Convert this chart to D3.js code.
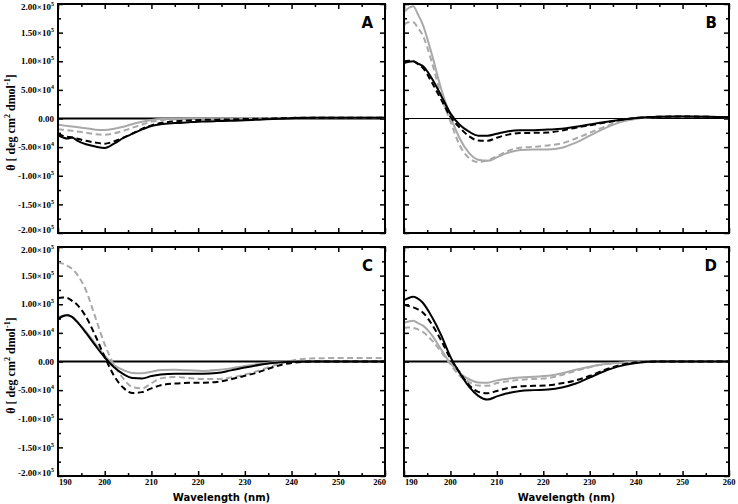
<!DOCTYPE html>
<html>
<head>
<meta charset="utf-8">
<script src="https://cdn.jsdelivr.net/npm/d3@7"></script>
<style>
body { margin: 0; background: #fff; }
</style>
</head>
<body>
<svg id="chart" width="738" height="504"></svg>
<script>
// wavelength grid (nm) shared by every series
var wavelengths = [190,191,192,193,194,196,198,200,202,204,206,208,210,212,215,218,221,224,227,230,233,236,240,245,250,255,260];

// ellipticity, in units of 1e3 deg cm2 dmol-1
var aGraySolid   = [-11,-12,-13,-14,-15,-17,-19.5,-20,-18,-14.5,-9.5,-5.5,-2.5,-1,-0.5,-0.2,0,0,0,0,0.3,0.5,1,1.5,1.5,1.2,1.2];
var aGrayDashed  = [-18.6,-19.5,-20.5,-21.5,-22.5,-25,-27.5,-28.5,-26,-21.5,-16,-10.5,-5.5,-3,-1.5,-1,-0.7,-0.5,-0.3,0,0.3,0.5,1,1.5,1.5,1.2,1.2];
var aBlackDashed = [-27,-30,-32,-33,-35,-39,-42,-44,-40,-33.5,-26,-18,-12,-8,-5,-3.5,-2.5,-2,-1.5,-1,-0.5,0,1,1.5,1.5,1.2,1.2];
var aBlackSolid  = [-30,-33,-35,-33,-38,-45,-49,-51.5,-44,-34,-26.5,-19,-13,-10.2,-8,-6.5,-5.2,-4.5,-4,-3,-2,-0.8,0.5,1.5,1.5,1.2,1.2];

var bGraySolid   = [186,193,196,182,165,112,52,4,-35,-60,-72,-74,-68,-61,-55,-54,-54,-51,-42,-30,-18,-8,-0.5,3,4,3.5,2];
var bGrayDashed  = [164,168,168,158,146,98,40,-5,-47,-69,-76,-73,-66,-58,-51,-49.5,-47,-43.5,-35,-25,-15,-6.5,0,2.5,3,3,2];
var bBlackDashed = [100,101,100,95,89,63,33,3,-16,-31,-38.5,-39,-33.5,-29,-25.5,-25,-24.5,-21,-16,-12,-7.5,-3.5,1,3,3.5,3,2];
var bBlackSolid  = [97,99,100,96,92,70,40,9,-11,-23,-30,-30,-26.5,-23,-20.6,-20.5,-19.4,-18,-14.5,-10.5,-6.5,-3,1,3,3.5,3,2];

var cGraySolid   = [77,80,81.5,78,71,52,31,10,-6,-15,-20,-20.5,-18,-15,-14.5,-15.5,-16.5,-15,-12,-8,-4.5,-1.5,0,0,0,0,0];
var cGrayDashed  = [173,171,167,162,153,124,77,30,-6,-30,-45,-47,-38,-29.5,-27,-29,-30.5,-30.5,-28,-23,-16,-7.5,1.5,5.5,6,6,6];
var cBlackDashed = [111,112,111,106,100,78,45,8,-25,-46,-55,-53.5,-47,-41.5,-38.5,-37.3,-37,-35.8,-31,-25,-18.5,-10,-2.5,0,0,0,0];
var cBlackSolid  = [74,79,81,78,70,50,28,7,-10,-22,-29,-29.5,-25.5,-22.5,-21.4,-21.4,-21.4,-20,-15.5,-10.5,-6,-2.5,-0.5,0,0,0,0];

var dGraySolid   = [68,70,71,67,63,46,21,-3,-20,-31,-36.5,-37,-33,-30.5,-28,-26.5,-25,-20.5,-14.5,-9,-5,-2.5,-0.5,0,0,0,0];
var dGrayDashed  = [59,59.5,58.5,56,52,37,17,-5,-25,-36,-42,-42.5,-37.6,-35,-32,-30.5,-29,-23.5,-16.5,-10,-5,-2.5,-0.5,0,0,0,0];
var dBlackDashed = [99,97,94.5,91,86,65,37,5,-19,-41,-53,-55.5,-51.4,-47,-43.5,-42.5,-41.5,-38,-33,-25,-15.5,-7.5,-1.5,0,0,0,0];
var dBlackSolid  = [107,111,113,110,103,78,46,8,-20,-44,-60,-66.5,-61,-56,-51.5,-50,-49,-45.5,-38.5,-28,-17.5,-9,-2.5,0,0,0,0];

var panelLetters = ["A", "B", "C", "D"];
var xMajorTicks = [190, 200, 210, 220, 230, 240, 250, 260];
var xMinorTicks = [195, 205, 215, 225, 235, 245, 255];
var yMajorTicks = [200000, 150000, 100000, 50000, 0, -50000, -100000, -150000, -200000];
var yMinorTicks = [175000, 125000, 75000, 25000, -25000, -75000, -125000, -175000];
var yTickLabels = [["2.00","5"],["1.50","5"],["1.00","5"],["5.00","4"],["0.00",""],["-5.00","4"],["-1.00","5"],["-1.50","5"],["-2.00","5"]];

var seriesByPanel = [
    [aGraySolid, aGrayDashed, aBlackDashed, aBlackSolid],
    [bGraySolid, bGrayDashed, bBlackDashed, bBlackSolid],
    [cGraySolid, cGrayDashed, cBlackDashed, cBlackSolid],
    [dGraySolid, dGrayDashed, dBlackDashed, dBlackSolid]
];
var seriesStyles = [
    {color: "#a9a9a9", dash: null},
    {color: "#a9a9a9", dash: "6,3.5"},
    {color: "#000", dash: "6,3.5"},
    {color: "#000", dash: null}
];

var serif = "'Liberation Serif', 'Times New Roman', serif",
    sans = "'DejaVu Sans', Verdana, sans-serif";

var svg = d3.select("#chart");

// panel boxes: x, y, width, height, which labels, zero line width
var layout = [
    {x: 58,  y: 4,   w: 327, h: 229, yLab: true,  xLab: false, zeroW: 2},
    {x: 404, y: 4,   w: 325, h: 229, yLab: false, xLab: false, zeroW: 1.2},
    {x: 58,  y: 247, w: 327, h: 229, yLab: true,  xLab: true,  zeroW: 2},
    {x: 404, y: 247, w: 325, h: 229, yLab: false, xLab: true,  zeroW: 2}
];

layout.forEach(function(p, i) {
    var g = svg.append("g").attr("transform", "translate(" + p.x + "," + p.y + ")");
    var x = d3.scaleLinear().domain([190, 260]).range([0, p.w]);
    var y = d3.scaleLinear().domain([-200000, 200000]).range([p.h, 0]);

    function ticks(axis, pos, vals, size) {
        var a = g.append("g").attr("transform", pos)
            .call(axis.tickValues(vals).tickSize(-size).tickFormat(""));
        a.select(".domain").remove();
        a.selectAll("line").attr("stroke", "#000").attr("stroke-width", 1.5);
    }
    ticks(d3.axisBottom(x), "translate(0," + p.h + ")", xMajorTicks, 5);
    ticks(d3.axisBottom(x), "translate(0," + p.h + ")", xMinorTicks, 3);
    ticks(d3.axisTop(x), "translate(0,0)", xMajorTicks, 5);
    ticks(d3.axisTop(x), "translate(0,0)", xMinorTicks, 3);
    ticks(d3.axisLeft(y), "translate(0,0)", yMajorTicks, 5);
    ticks(d3.axisLeft(y), "translate(0,0)", yMinorTicks, 3);
    ticks(d3.axisRight(y), "translate(" + p.w + ",0)", yMajorTicks, 5);
    ticks(d3.axisRight(y), "translate(" + p.w + ",0)", yMinorTicks, 3);

    // zero line
    g.append("line")
        .attr("x1", x(190)).attr("x2", x(260))
        .attr("y1", y(0)).attr("y2", y(0))
        .attr("stroke", "#000").attr("stroke-width", p.zeroW);

    var line = d3.line()
        .x(function(d, k) { return x(wavelengths[k]); })
        .y(function(d) { return y(d * 1000); })
        .curve(d3.curveMonotoneX);

    seriesByPanel[i].forEach(function(vals, s) {
        g.append("path")
            .attr("d", line(vals))
            .attr("fill", "none")
            .attr("stroke", seriesStyles[s].color)
            .attr("stroke-width", 2)
            .attr("stroke-dasharray", seriesStyles[s].dash);
    });

    // frame
    g.append("rect")
        .attr("width", p.w).attr("height", p.h)
        .attr("fill", "none").attr("stroke", "#000").attr("stroke-width", 2);

    g.append("text")
        .attr("x", p.w - 12).attr("y", 24)
        .attr("text-anchor", "end")
        .attr("font-family", sans).attr("font-weight", "bold").attr("font-size", "15px")
        .text(panelLetters[i]);

    if (p.yLab) {
        yMajorTicks.forEach(function(v, k) {
            // the end labels are nudged inward, as in the original
            var nudge = 0;
            if (k === 0) nudge = 3;
            if (k === yMajorTicks.length - 1) nudge = -3;
            var t = g.append("text")
                .attr("x", -4).attr("y", y(v) + nudge).attr("dy", "0.35em")
                .attr("text-anchor", "end")
                .attr("font-family", serif).attr("font-weight", "bold").attr("font-size", "9px");
            var lab = yTickLabels[k];
            t.append("tspan").text(lab[1] ? lab[0] + "\u00d710" : lab[0]);
            if (lab[1]) t.append("tspan").attr("dy", -4).attr("font-size", "6px").text(lab[1]);
        });

        var title = svg.append("text")
            .attr("transform", "translate(15," + (p.y + p.h / 2 + 4) + ") rotate(-90)")
            .attr("text-anchor", "middle")
            .attr("font-family", serif).attr("font-weight", "bold").attr("font-size", "12px");
        title.append("tspan").text("\u03b8 [ deg cm");
        title.append("tspan").attr("dy", -5).attr("font-size", "8px").text("2");
        title.append("tspan").attr("dy", 5).text(" dmol");
        title.append("tspan").attr("dy", -5).attr("font-size", "8px").text("-1");
        title.append("tspan").attr("dy", 5).text("]");
    }

    if (p.xLab) {
        xMajorTicks.forEach(function(v, k) {
            var anchor = "middle", dx = 0;
            if (k === 0) { anchor = "start"; dx = 1; }
            if (k === xMajorTicks.length - 1 && i === 2) { anchor = "end"; dx = 1; }
            g.append("text")
                .attr("x", x(v) + dx).attr("y", p.h + 9)
                .attr("text-anchor", anchor)
                .attr("font-family", serif).attr("font-weight", "bold").attr("font-size", "8.5px")
                .text(v);
        });
        g.append("text")
            .attr("x", p.w / 2).attr("y", p.h + 25)
            .attr("text-anchor", "middle")
            .attr("font-family", sans).attr("font-weight", "bold").attr("font-size", "10px")
            .text("Wavelength (nm)");
    }
});
</script>
</body>
</html>
